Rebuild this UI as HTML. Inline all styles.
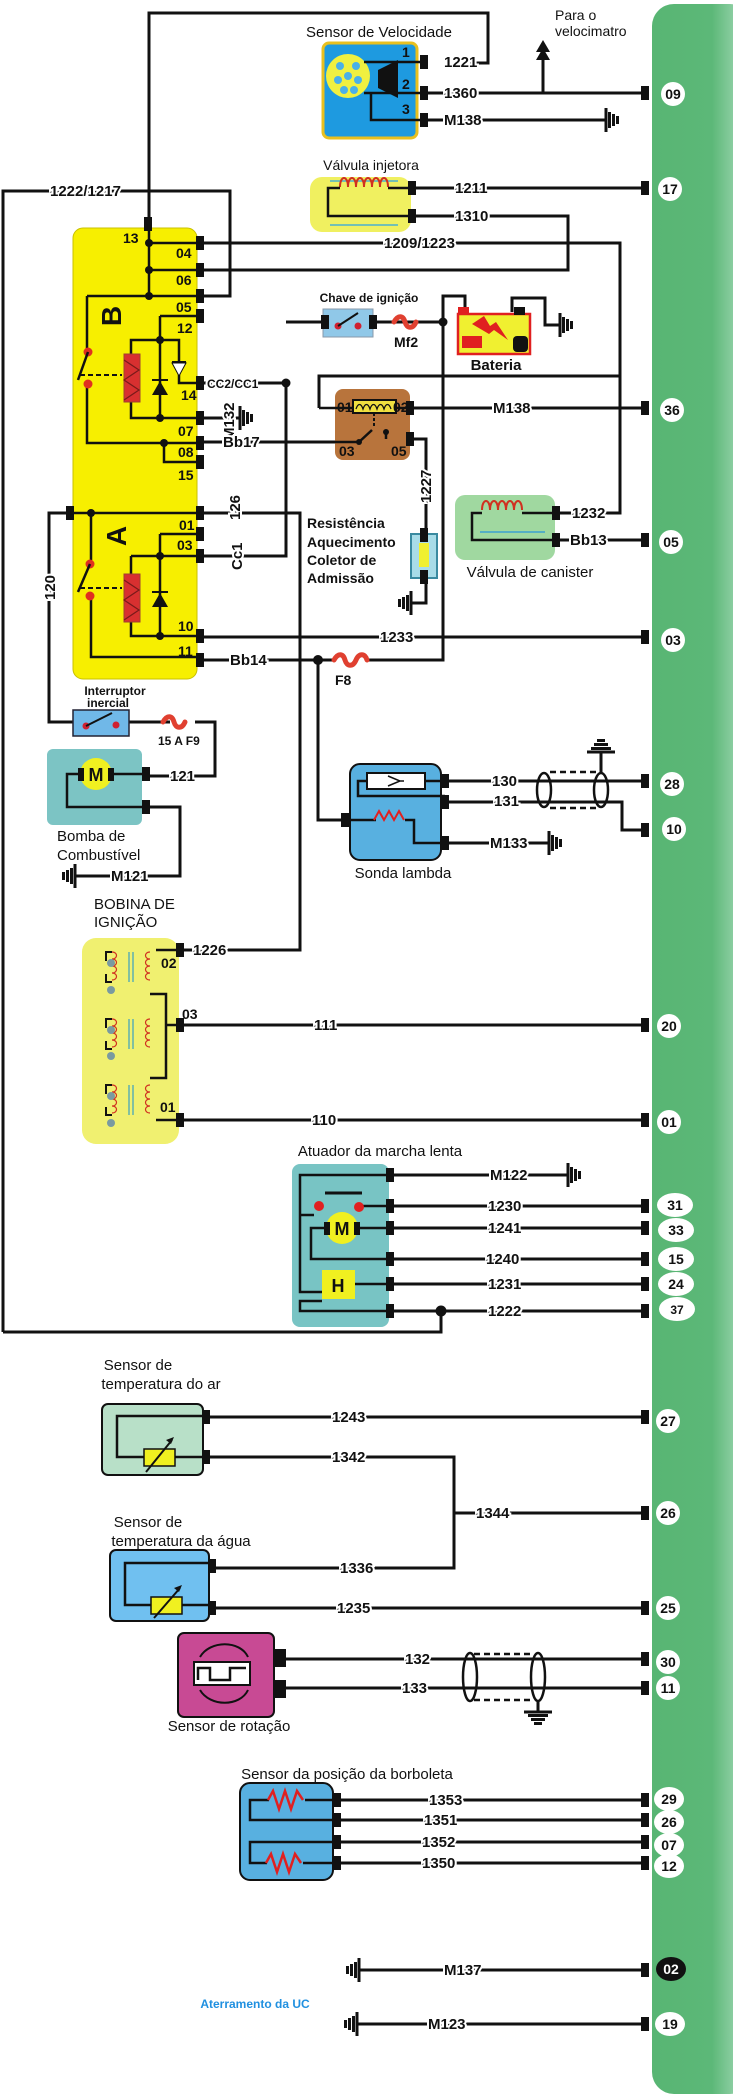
<!DOCTYPE html>
<html><head><meta charset="utf-8"><style>
html,body{margin:0;padding:0;background:#fff}
svg{display:block}
text{font-family:"Liberation Sans",sans-serif;font-size:14px;fill:#111}
.w{fill:none;stroke:#111;stroke-width:3}
.t{font-weight:bold;font-size:15px;paint-order:stroke;stroke:#fff;stroke-width:4px}
.n{font-weight:bold;font-size:14px;text-anchor:middle}
.p{font-weight:bold;font-size:14px}
</style></head><body>
<svg width="733" height="2097" viewBox="0 0 733 2097" xmlns="http://www.w3.org/2000/svg">
<defs>
<linearGradient id="gb" x1="0" x2="1"><stop offset="0" stop-color="#58b573"/><stop offset="0.6" stop-color="#5cb878"/><stop offset="1" stop-color="#b4e0c4"/></linearGradient>
<symbol id="cn" overflow="visible"><rect x="-4" y="-7" width="8" height="14" fill="#111"/></symbol>
<symbol id="gR" overflow="visible"><path d="M0,-12V12" stroke="#111" stroke-width="3"/><rect x="2" y="-8" width="3" height="16" fill="#111"/><rect x="6" y="-6" width="3" height="12" fill="#111"/><rect x="10" y="-4" width="3" height="8" fill="#111"/></symbol>
<symbol id="gL" overflow="visible"><path d="M0,-12V12" stroke="#111" stroke-width="3"/><rect x="-5" y="-8" width="3" height="16" fill="#111"/><rect x="-9" y="-6" width="3" height="12" fill="#111"/><rect x="-13" y="-4" width="3" height="8" fill="#111"/></symbol>
<symbol id="gD" overflow="visible"><path d="M-14,0H14" stroke="#111" stroke-width="3"/><rect x="-10" y="2" width="20" height="3" fill="#111"/><rect x="-7" y="6" width="14" height="3" fill="#111"/><rect x="-4" y="10" width="8" height="3" fill="#111"/></symbol>
<symbol id="gU" overflow="visible"><path d="M-14,0H14" stroke="#111" stroke-width="3"/><rect x="-10" y="-5" width="20" height="3" fill="#111"/><rect x="-7" y="-9" width="14" height="3" fill="#111"/><rect x="-4" y="-13" width="8" height="3" fill="#111"/></symbol>
</defs>

<rect x="652" y="4" width="100" height="2090" rx="22" fill="url(#gb)"/>

<path class="w" d="M149,224V13H488V63H470"/>
<path class="w" d="M3,1332V191H230V296H200"/>
<path class="w" d="M425,93H645M543,93V50"/>
<path d="M543,40l-7,12h14z M543,48l-7,12h14z" fill="#111"/>
<path class="w" d="M425,120H606"/>
<path class="w" d="M412,188H645"/>
<path class="w" d="M412,216H568V270H200"/>
<path class="w" d="M200,243H620V513H556"/>
<path class="w" d="M319,408V376H620"/>
<path class="w" d="M410,408H645"/>
<path class="w" d="M200,442H335"/>
<path class="w" d="M200,418H240"/>
<path class="w" d="M412,439H426V534"/>
<path class="w" d="M426,578V603H411"/>
<path class="w" d="M200,383H286V556H200"/>
<path class="w" d="M286,322H323"/>
<path class="w" d="M373,322H443V660H369M443,322V296H465V312"/>
<path class="w" d="M512,312V298H545V325H560"/>
<path class="w" d="M200,513H300V950H180"/>
<path class="w" d="M200,637H645"/>
<path class="w" d="M200,660H332M318,660V820H345"/>
<path class="w" d="M556,540H645"/>
<path class="w" d="M70,513H49V722H73M129,722H170M195,722H215V776H146"/>
<path class="w" d="M146,807H180V876H75"/>
<path class="w" d="M445,781H645M445,802H622V830H645M445,843H549"/>
<path class="w" d="M180,1025H645M180,1120H645"/>
<path class="w" d="M389,1175H568M389,1206H645M389,1228H645M389,1259H645M389,1284H645M389,1311H645M441,1311V1332H3"/>
<path class="w" d="M206,1417H645M206,1457H454V1568H212M454,1513H645M212,1608H645"/>
<path class="w" d="M280,1659H645M280,1688H645"/>
<path class="w" d="M337,1800H645M337,1820H645M337,1842H645M337,1863H645"/>
<path class="w" d="M359,1970H645M357,2024H645"/>

<use href="#gR" x="606" y="120"/>
<use href="#gR" x="560" y="325"/>
<use href="#gR" x="240" y="418"/>
<use href="#gL" x="411" y="603"/>
<use href="#gL" x="75" y="876"/>
<use href="#gR" x="549" y="843"/>
<use href="#gR" x="568" y="1175"/>
<use href="#gL" x="359" y="1970"/>
<use href="#gL" x="357" y="2024"/>
<use href="#gU" x="601" y="752"/>
<use href="#gD" x="538" y="1712"/>
<path class="w" d="M601,752V772M538,1700V1712"/>

<g>
<use href="#cn" x="645" y="93"/><use href="#cn" x="645" y="188"/><use href="#cn" x="645" y="408"/><use href="#cn" x="645" y="540"/><use href="#cn" x="645" y="637"/><use href="#cn" x="645" y="781"/><use href="#cn" x="645" y="830"/><use href="#cn" x="645" y="1025"/><use href="#cn" x="645" y="1120"/><use href="#cn" x="645" y="1206"/><use href="#cn" x="645" y="1228"/><use href="#cn" x="645" y="1259"/><use href="#cn" x="645" y="1284"/><use href="#cn" x="645" y="1311"/><use href="#cn" x="645" y="1417"/><use href="#cn" x="645" y="1513"/><use href="#cn" x="645" y="1608"/><use href="#cn" x="645" y="1659"/><use href="#cn" x="645" y="1688"/><use href="#cn" x="645" y="1800"/><use href="#cn" x="645" y="1820"/><use href="#cn" x="645" y="1842"/><use href="#cn" x="645" y="1863"/><use href="#cn" x="645" y="1970"/><use href="#cn" x="645" y="2024"/>
</g>
<g fill="#fff">
<circle cx="673" cy="94" r="12"/><circle cx="670" cy="189" r="12"/><circle cx="672" cy="410" r="12"/><circle cx="671" cy="542" r="12"/><circle cx="673" cy="640" r="12"/><circle cx="672" cy="784" r="12"/><circle cx="674" cy="829" r="12"/><circle cx="669" cy="1026" r="12"/><circle cx="669" cy="1122" r="12"/>
<ellipse cx="675" cy="1205" rx="18" ry="12"/><ellipse cx="676" cy="1230" rx="18" ry="12"/><ellipse cx="676" cy="1259" rx="18" ry="12"/><ellipse cx="676" cy="1284" rx="18" ry="12"/><ellipse cx="677" cy="1309" rx="18" ry="12"/>
<circle cx="668" cy="1421" r="12"/><circle cx="668" cy="1513" r="12"/><circle cx="668" cy="1608" r="12"/><circle cx="668" cy="1662" r="12"/><circle cx="668" cy="1688" r="12"/>
<ellipse cx="669" cy="1799" rx="15" ry="12"/><ellipse cx="669" cy="1822" rx="15" ry="12"/><ellipse cx="669" cy="1845" rx="15" ry="12"/><ellipse cx="669" cy="1866" rx="15" ry="12"/>
<ellipse cx="671" cy="1969" rx="15" ry="12" fill="#111"/><ellipse cx="670" cy="2024" rx="15" ry="12"/>
</g>
<g class="n">
<text x="673" y="99">09</text><text x="670" y="194">17</text><text x="672" y="415">36</text><text x="671" y="547">05</text><text x="673" y="645">03</text><text x="672" y="789">28</text><text x="674" y="834">10</text><text x="669" y="1031">20</text><text x="669" y="1127">01</text>
<text x="675" y="1210">31</text><text x="676" y="1235">33</text><text x="676" y="1264">15</text><text x="676" y="1289">24</text><text x="677" y="1314" style="font-size:12px">37</text>
<text x="668" y="1426">27</text><text x="668" y="1518">26</text><text x="668" y="1613">25</text><text x="668" y="1667">30</text><text x="668" y="1693">11</text>
<text x="669" y="1804">29</text><text x="669" y="1827">26</text><text x="669" y="1850">07</text><text x="669" y="1871">12</text>
<text x="671" y="1974" style="fill:#fff">02</text><text x="670" y="2029">19</text>
</g>

<text x="379" y="37" text-anchor="middle" style="font-size:15px">Sensor de Velocidade</text>
<rect x="323" y="43" width="94" height="95" rx="6" fill="#1e9ae0" stroke="#e8c020" stroke-width="3"/>
<circle cx="348" cy="76" r="22" fill="#f0f040"/>
<g fill="#4ab0e8"><circle cx="348" cy="76" r="4"/><circle cx="340" cy="66" r="4"/><circle cx="356" cy="66" r="4"/><circle cx="338" cy="80" r="4"/><circle cx="358" cy="80" r="4"/><circle cx="344" cy="90" r="4"/><circle cx="354" cy="90" r="4"/></g>
<path d="M378,70L398,60V98L378,88Z" fill="#111"/>
<path class="w" d="M364,62H424M364,93H424M371,93V120H424" style="stroke-width:2.5"/>
<use href="#cn" x="424" y="62"/><use href="#cn" x="424" y="93"/><use href="#cn" x="424" y="120"/>
<text x="402" y="57" class="p">1</text><text x="402" y="89" class="p">2</text><text x="402" y="114" class="p">3</text>
<text x="444" y="67" class="t">1221</text><text x="444" y="98" class="t">1360</text><text x="444" y="125" class="t">M138</text>
<text x="555" y="20" style="font-size:14px">Para o</text><text x="555" y="36" style="font-size:14px">velocimatro</text>

<text x="371" y="170" text-anchor="middle" style="font-size:14px">Válvula injetora</text>
<rect x="310" y="177" width="101" height="55" rx="12" fill="#f0f060"/>
<path d="M330,181H398M330,225H398" stroke="#4ab0d0" stroke-width="1.5"/>
<path d="M340,187c0,-12 8,-12 8,0c0,-12 8,-12 8,0c0,-12 8,-12 8,0c0,-12 8,-12 8,0c0,-12 8,-12 8,0c0,-12 8,-12 8,0" fill="none" stroke="#d03020" stroke-width="2"/>
<path class="w" d="M388,188H412M340,188H328V216H412" style="stroke-width:2.5"/>
<use href="#cn" x="412" y="188"/><use href="#cn" x="412" y="216"/>
<text x="455" y="193" class="t">1211</text><text x="455" y="221" class="t">1310</text>

<rect x="73" y="228" width="124" height="451" rx="10" fill="#f7ef00" stroke="#c8c000" stroke-width="1"/>
<use href="#cn" x="148" y="224"/>
<path class="w" d="M149,224V296M149,243H200M149,270H200M87,296H200M87,296V350M87,385V443H200M164,443V462H200" style="stroke-width:2.5"/>
<g fill="#111"><circle cx="149" cy="243" r="4"/><circle cx="149" cy="270" r="4"/><circle cx="149" cy="296" r="4"/><circle cx="164" cy="443" r="4"/></g>
<path class="w" d="M160,316H200M160,316V418H131V340H160M131,418H200M160,340H179V383H200" style="stroke-width:2.5"/>
<circle cx="160" cy="340" r="4" fill="#111"/><circle cx="160" cy="418" r="4" fill="#111"/>
<rect x="124" y="354" width="16" height="48" fill="#d83030" stroke="#a04030"/>
<path d="M124,360l15,10l-15,10l15,10l-15,10" fill="none" stroke="#7a1a1a" stroke-width="1.2"/>
<path d="M152,395h16l-8,-14z" fill="#111"/><path d="M152,380h16" stroke="#111" stroke-width="2"/>
<path d="M172,363h14l-7,13z" fill="#fff" stroke="#111"/><path d="M172,362h14" stroke="#111" stroke-width="2"/>
<circle cx="88" cy="352" r="4.5" fill="#e03020"/><circle cx="88" cy="384" r="4.5" fill="#e03020"/>
<path d="M88,352L78,380" stroke="#111" stroke-width="2.5"/><path d="M80,375H122" stroke="#111" stroke-width="2" stroke-dasharray="5,3"/>
<use href="#cn" x="70" y="513"/>
<path class="w" d="M70,513H200M91,513V560M91,595V657H200M160,534H200M160,534V636M160,556H200M131,556H160V636M131,556V636H200" style="stroke-width:2.5"/>
<g fill="#111"><circle cx="91" cy="513" r="4"/><circle cx="160" cy="556" r="4"/><circle cx="160" cy="636" r="4"/></g>
<rect x="124" y="574" width="16" height="48" fill="#d83030" stroke="#a04030"/>
<path d="M124,580l15,10l-15,10l15,10l-15,10" fill="none" stroke="#7a1a1a" stroke-width="1.2"/>
<path d="M152,607h16l-8,-14z" fill="#111"/><path d="M152,592h16" stroke="#111" stroke-width="2"/>
<circle cx="90" cy="564" r="4.5" fill="#e03020"/><circle cx="90" cy="596" r="4.5" fill="#e03020"/>
<path d="M90,564L78,592" stroke="#111" stroke-width="2.5"/><path d="M80,588H122" stroke="#111" stroke-width="2" stroke-dasharray="5,3"/>
<g>
<use href="#cn" x="200" y="243"/><use href="#cn" x="200" y="270"/><use href="#cn" x="200" y="296"/><use href="#cn" x="200" y="316"/><use href="#cn" x="200" y="383"/><use href="#cn" x="200" y="418"/><use href="#cn" x="200" y="443"/><use href="#cn" x="200" y="462"/><use href="#cn" x="200" y="513"/><use href="#cn" x="200" y="534"/><use href="#cn" x="200" y="556"/><use href="#cn" x="200" y="636"/><use href="#cn" x="200" y="660"/>
</g>
<g class="p" style="font-size:14px">
<text x="123" y="243">13</text><text x="176" y="258">04</text><text x="176" y="285">06</text><text x="176" y="312">05</text><text x="177" y="333">12</text><text x="181" y="400">14</text><text x="178" y="436">07</text><text x="178" y="457">08</text><text x="178" y="480">15</text><text x="179" y="530">01</text><text x="177" y="550">03</text><text x="178" y="631">10</text><text x="178" y="656">11</text>
</g>
<text x="0" y="0" transform="translate(121,316) rotate(-90)" style="font-size:28px;font-weight:bold" text-anchor="middle">B</text>
<text x="0" y="0" transform="translate(126,536) rotate(-90)" style="font-size:28px;font-weight:bold" text-anchor="middle">A</text>
<text x="207" y="388" class="t" style="font-size:12px">CC2/CC1</text>
<circle cx="286" cy="383" r="4.5" fill="#111"/>
<text transform="translate(234,440) rotate(-90)" class="t">M132</text>
<text x="223" y="447" class="t">Bb17</text>
<text transform="translate(240,520) rotate(-90)" class="t">126</text>
<text transform="translate(242,570) rotate(-90)" class="t">Cc1</text>
<text transform="translate(55,600) rotate(-90)" class="t">120</text>
<text x="230" y="665" class="t">Bb14</text>
<circle cx="318" cy="660" r="5" fill="#111"/>
<text x="384" y="248" class="t">1209/1223</text>
<text x="50" y="196" class="t">1222/1217</text>
<text x="380" y="642" class="t">1233</text>

<text x="369" y="302" text-anchor="middle" style="font-size:12px;font-weight:bold">Chave de ignição</text>
<rect x="323" y="309" width="50" height="28" fill="#90c8e8" stroke="#8899aa"/>
<use href="#cn" x="325" y="322"/><use href="#cn" x="373" y="322"/>
<circle cx="338" cy="326" r="3.5" fill="#d02030"/><circle cx="358" cy="326" r="3.5" fill="#d02030"/><path d="M338,326L358,313" stroke="#111" stroke-width="2"/>
<path d="M394,322c4,-7 9,-7 11,0s8,7 11,0" fill="none" stroke="#e04030" stroke-width="5" stroke-linecap="round"/>
<text x="394" y="347" class="p">Mf2</text>
<circle cx="443" cy="322" r="4.5" fill="#111"/>
<rect x="458" y="314" width="72" height="40" fill="#f0f030" stroke="#e02020" stroke-width="2.5"/>
<rect x="458" y="307" width="11" height="8" fill="#e02020"/><rect x="514" y="307" width="11" height="8" fill="#111"/>
<rect x="462" y="336" width="20" height="12" fill="#e02020"/>
<path d="M472,324l12,-8l6,10l6,-4l12,18l-14,-10l-5,4z" fill="#e02020"/>
<rect x="513" y="336" width="15" height="16" rx="4" fill="#111"/>
<text x="496" y="370" text-anchor="middle" class="p" style="font-size:15px">Bateria</text>
<rect x="335" y="389" width="75" height="71" rx="8" fill="#b8743c"/>
<rect x="353" y="400" width="43" height="13" fill="#f0e040" stroke="#111" stroke-width="2"/>
<path d="M356,409c2,-6 5,-6 7,0c2,-6 5,-6 7,0c2,-6 5,-6 7,0c2,-6 5,-6 7,0c2,-6 5,-6 7,0" fill="none" stroke="#111" stroke-width="1.3"/>
<path class="w" d="M319,408H353M396,408H410M335,442H359L372,430M386,439V430" style="stroke-width:2.5"/>
<path d="M374,413V428" stroke="#111" stroke-width="2" stroke-dasharray="3,2"/>
<circle cx="386" cy="432" r="3" fill="#111"/><circle cx="359" cy="442" r="3" fill="#111"/>
<use href="#cn" x="410" y="408"/><use href="#cn" x="410" y="439"/>
<g class="p"><text x="337" y="412">01</text><text x="393" y="412">02</text><text x="339" y="456">03</text><text x="391" y="456">05</text></g>
<text x="493" y="413" class="t">M138</text>
<text transform="translate(431,503) rotate(-90)" class="t">1227</text>
<rect x="411" y="534" width="26" height="44" fill="#a8dce8" stroke="#3a8aa0" stroke-width="2"/>
<rect x="419" y="543" width="10" height="24" fill="#f0f030"/>
<use href="#cn" x="424" y="535"/><use href="#cn" x="424" y="577"/>
<g style="font-size:15px;font-weight:bold"><text x="307" y="528">Resistência</text><text x="307" y="547">Aquecimento</text><text x="307" y="565">Coletor de</text><text x="307" y="583">Admissão</text></g>
<rect x="455" y="495" width="100" height="65" rx="10" fill="#a0d8a0"/>
<path d="M482,510c0,-12 8,-12 8,0c0,-12 8,-12 8,0c0,-12 8,-12 8,0c0,-12 8,-12 8,0c0,-12 8,-12 8,0" fill="none" stroke="#d03020" stroke-width="2"/>
<path class="w" d="M522,513H556M482,513H472V540H556" style="stroke-width:2.5"/>
<path d="M480,532H545" stroke="#3aa0d0" stroke-width="1.5"/>
<use href="#cn" x="556" y="513"/><use href="#cn" x="556" y="540"/>
<text x="572" y="518" class="t">1232</text><text x="570" y="545" class="t">Bb13</text>
<text x="530" y="577" text-anchor="middle" style="font-size:15px">Válvula de canister</text>
<path d="M334,660c4,-7 9,-7 11,0s8,7 11,0s9,-7 11,0" fill="none" stroke="#e04030" stroke-width="5" stroke-linecap="round"/>
<text x="335" y="685" class="p">F8</text>

<text x="115" y="695" text-anchor="middle" style="font-size:12px;font-weight:bold">Interruptor</text>
<text x="108" y="707" text-anchor="middle" style="font-size:12px;font-weight:bold">inercial</text>
<rect x="73" y="710" width="56" height="26" fill="#70b8e8" stroke="#223" stroke-width="1.5"/>
<circle cx="86" cy="726" r="3.5" fill="#d02030"/><circle cx="116" cy="725" r="3.5" fill="#d02030"/><path d="M86,726L112,713" stroke="#111" stroke-width="2"/>
<path d="M163,722c4,-7 9,-7 11,0s8,7 11,0" fill="none" stroke="#e04030" stroke-width="5" stroke-linecap="round"/>
<text x="158" y="745" class="p" style="font-size:12px">15 A F9</text>
<rect x="47" y="749" width="95" height="76" rx="6" fill="#7cc4c4"/>
<path class="w" d="M80,774H67V807H146" style="stroke-width:2.5"/>
<circle cx="96" cy="774" r="16" fill="#f0f020"/>
<rect x="78" y="768" width="6" height="13" fill="#111"/><rect x="108" y="768" width="6" height="13" fill="#111"/>
<text x="96" y="781" text-anchor="middle" style="font-size:18px;font-weight:bold">M</text>
<path class="w" d="M114,774H146" style="stroke-width:2.5"/>
<use href="#cn" x="146" y="774"/><use href="#cn" x="146" y="807"/>
<text x="170" y="781" class="t">121</text>
<text x="57" y="841" style="font-size:15px">Bomba de</text><text x="57" y="860" style="font-size:15px">Combustível</text>
<text x="111" y="881" class="t">M121</text>

<rect x="350" y="764" width="91" height="96" rx="10" fill="#58b0e0" stroke="#111" stroke-width="2"/>
<rect x="367" y="773" width="58" height="16" fill="#fff" stroke="#111" stroke-width="2"/>
<path d="M388,776L400,781L388,786M400,781H404" fill="none" stroke="#111" stroke-width="1.5"/>
<path class="w" d="M425,781H445M367,781H358V796H445M345,820H376M405,820H414V843H445" style="stroke-width:2.5"/>
<path d="M374,820l5,-9l5,9l5,-9l5,9l5,-9l5,9" fill="none" stroke="#e02020" stroke-width="2"/>
<use href="#cn" x="445" y="781"/><use href="#cn" x="445" y="802"/><use href="#cn" x="445" y="843"/><use href="#cn" x="345" y="820"/>
<text x="403" y="878" text-anchor="middle" style="font-size:15px">Sonda lambda</text>
<text x="492" y="786" class="t">130</text><text x="494" y="806" class="t">131</text><text x="490" y="848" class="t">M133</text>
<ellipse cx="544" cy="790" rx="7" ry="17" fill="none" stroke="#111" stroke-width="2.5"/>
<ellipse cx="601" cy="790" rx="7" ry="17" fill="none" stroke="#111" stroke-width="2.5"/>
<path d="M550,772H598M550,808H598" stroke="#111" stroke-width="2.5" stroke-dasharray="6,4"/>

<text x="94" y="909" style="font-size:15px">BOBINA DE</text><text x="94" y="927" style="font-size:15px">IGNIÇÃO</text>
<rect x="82" y="938" width="97" height="206" rx="14" fill="#f0f070"/>
<g fill="none" stroke-width="1.2">
<g id="coil">
<path d="M112,952c6,0 6,7 0,7c6,0 6,7 0,7c6,0 6,7 0,7c6,0 6,7 0,7M150,952c-6,0 -6,7 0,7c-6,0 -6,7 0,7c-6,0 -6,7 0,7c-6,0 -6,7 0,7" stroke="#d03020"/>
<path d="M129,952V982M133,952V982" stroke="#3aa0c0"/>
<path d="M112,952H106V961M106,974V982H112" stroke="#111" stroke-width="2"/>
</g>
<use href="#coil" y="67"/><use href="#coil" y="133"/>
</g>
<g fill="#7a9aa0"><circle cx="111" cy="963" r="4"/><circle cx="111" cy="990" r="4"/><circle cx="111" cy="1030" r="4"/><circle cx="111" cy="1056" r="4"/><circle cx="111" cy="1096" r="4"/><circle cx="111" cy="1123" r="4"/></g>
<path class="w" d="M156,950H180M150,994H166V1078H150M166,1025H180M156,1120H180" style="stroke-width:2.5"/>
<use href="#cn" x="180" y="950"/><use href="#cn" x="180" y="1025"/><use href="#cn" x="180" y="1120"/>
<g class="p"><text x="161" y="968">02</text><text x="182" y="1019">03</text><text x="160" y="1112">01</text></g>
<text x="193" y="955" class="t">1226</text>
<text x="314" y="1030" class="t">111</text><text x="312" y="1125" class="t">110</text>

<text x="380" y="1156" text-anchor="middle" style="font-size:15px">Atuador da marcha lenta</text>
<rect x="292" y="1164" width="97" height="163" rx="8" fill="#78c4c4"/>
<path class="w" d="M389,1175H300V1215H314M300,1215V1292H322M355,1206H389M356,1228H389M327,1228H311V1259H389M355,1284H389M322,1301H300V1311H389" style="stroke-width:2.5"/>
<path d="M325,1193H362" stroke="#111" stroke-width="3"/>
<circle cx="319" cy="1206" r="5" fill="#e02020"/><circle cx="359" cy="1207" r="5" fill="#e02020"/>
<circle cx="342" cy="1228" r="16" fill="#f0f020"/>
<rect x="324" y="1222" width="6" height="13" fill="#111"/><rect x="354" y="1222" width="6" height="13" fill="#111"/>
<text x="342" y="1235" text-anchor="middle" style="font-size:18px;font-weight:bold">M</text>
<rect x="322" y="1270" width="33" height="29" fill="#f0f020"/>
<text x="338" y="1292" text-anchor="middle" style="font-size:18px;font-weight:bold">H</text>
<use href="#cn" x="390" y="1175"/><use href="#cn" x="390" y="1206"/><use href="#cn" x="390" y="1228"/><use href="#cn" x="390" y="1259"/><use href="#cn" x="390" y="1284"/><use href="#cn" x="390" y="1311"/>
<circle cx="441" cy="1311" r="5.5" fill="#111"/>
<g><text x="490" y="1180" class="t">M122</text><text x="488" y="1211" class="t">1230</text><text x="488" y="1233" class="t">1241</text><text x="486" y="1264" class="t">1240</text><text x="488" y="1289" class="t">1231</text><text x="488" y="1316" class="t">1222</text></g>

<text x="138" y="1370" text-anchor="middle" style="font-size:15px">Sensor de</text>
<text x="161" y="1389" text-anchor="middle" style="font-size:15px">temperatura  do ar</text>
<rect x="102" y="1404" width="101" height="71" rx="6" fill="#b8e0c8" stroke="#111" stroke-width="2"/>
<path class="w" d="M206,1416H117V1457H144M174,1457H206" style="stroke-width:2.5"/>
<rect x="144" y="1449" width="31" height="17" fill="#f0f020" stroke="#111" stroke-width="1.5"/>
<path d="M146,1472L172,1440" stroke="#111" stroke-width="2"/><path d="M174,1437l-8,3l5,4z" fill="#111"/>
<use href="#cn" x="206" y="1417"/><use href="#cn" x="206" y="1457"/>
<text x="332" y="1422" class="t">1243</text><text x="332" y="1462" class="t">1342</text><text x="476" y="1518" class="t">1344</text>
<text x="148" y="1527" text-anchor="middle" style="font-size:15px">Sensor de</text>
<text x="181" y="1546" text-anchor="middle" style="font-size:15px">temperatura  da água</text>
<rect x="110" y="1550" width="99" height="71" rx="6" fill="#70c0f0" stroke="#111" stroke-width="2"/>
<path class="w" d="M212,1563H125V1605H151M182,1605H212" style="stroke-width:2.5"/>
<rect x="151" y="1597" width="31" height="17" fill="#f0f020" stroke="#111" stroke-width="1.5"/>
<path d="M154,1618L180,1588" stroke="#111" stroke-width="2"/><path d="M182,1585l-8,3l5,4z" fill="#111"/>
<use href="#cn" x="212" y="1566"/><use href="#cn" x="212" y="1608"/>
<text x="340" y="1573" class="t">1336</text><text x="337" y="1613" class="t">1235</text>
<rect x="178" y="1633" width="96" height="84" rx="6" fill="#c84a94" stroke="#111" stroke-width="2"/>
<rect x="194" y="1662" width="56" height="23" fill="#fff" stroke="#111" stroke-width="2"/>
<path d="M198,1680V1668H210V1680H230V1668H246" fill="none" stroke="#111" stroke-width="2.5"/>
<path d="M200,1657C210,1640 240,1640 248,1657M200,1690C210,1707 240,1707 248,1690" fill="none" stroke="#111" stroke-width="2"/>
<rect x="274" y="1649" width="12" height="18" fill="#111"/><rect x="274" y="1680" width="12" height="18" fill="#111"/>
<text x="229" y="1731" text-anchor="middle" style="font-size:15px">Sensor de rotação</text>
<text x="405" y="1664" class="t">132</text><text x="402" y="1693" class="t">133</text>
<ellipse cx="470" cy="1677" rx="7" ry="24" fill="none" stroke="#111" stroke-width="2.5"/>
<ellipse cx="538" cy="1677" rx="7" ry="24" fill="none" stroke="#111" stroke-width="2.5"/>
<path d="M474,1654H534M474,1700H534" stroke="#111" stroke-width="2.5" stroke-dasharray="6,4"/>
<text x="347" y="1779" text-anchor="middle" style="font-size:15px">Sensor da posição da borboleta</text>
<rect x="240" y="1783" width="93" height="97" rx="10" fill="#58b0e0" stroke="#111" stroke-width="2"/>
<path class="w" d="M337,1800H305M269,1800H250V1820H337M337,1842H250V1863H267M303,1863H337" style="stroke-width:2.5"/>
<path d="M268,1800l5,-9l6,18l6,-18l6,18l6,-18l6,9" fill="none" stroke="#e02020" stroke-width="2.5"/>
<path d="M266,1863l5,-9l6,18l6,-18l6,18l6,-18l6,9" fill="none" stroke="#e02020" stroke-width="2.5"/>
<use href="#cn" x="337" y="1800"/><use href="#cn" x="337" y="1820"/><use href="#cn" x="337" y="1842"/><use href="#cn" x="337" y="1863"/>
<text x="429" y="1805" class="t">1353</text><text x="424" y="1825" class="t">1351</text><text x="422" y="1847" class="t">1352</text><text x="422" y="1868" class="t">1350</text>
<text x="444" y="1975" class="t">M137</text><text x="428" y="2029" class="t">M123</text>
<text x="255" y="2008" text-anchor="middle" style="font-size:12px;font-weight:bold;fill:#2090e0">Aterramento da UC</text>
</svg>
</body></html>
